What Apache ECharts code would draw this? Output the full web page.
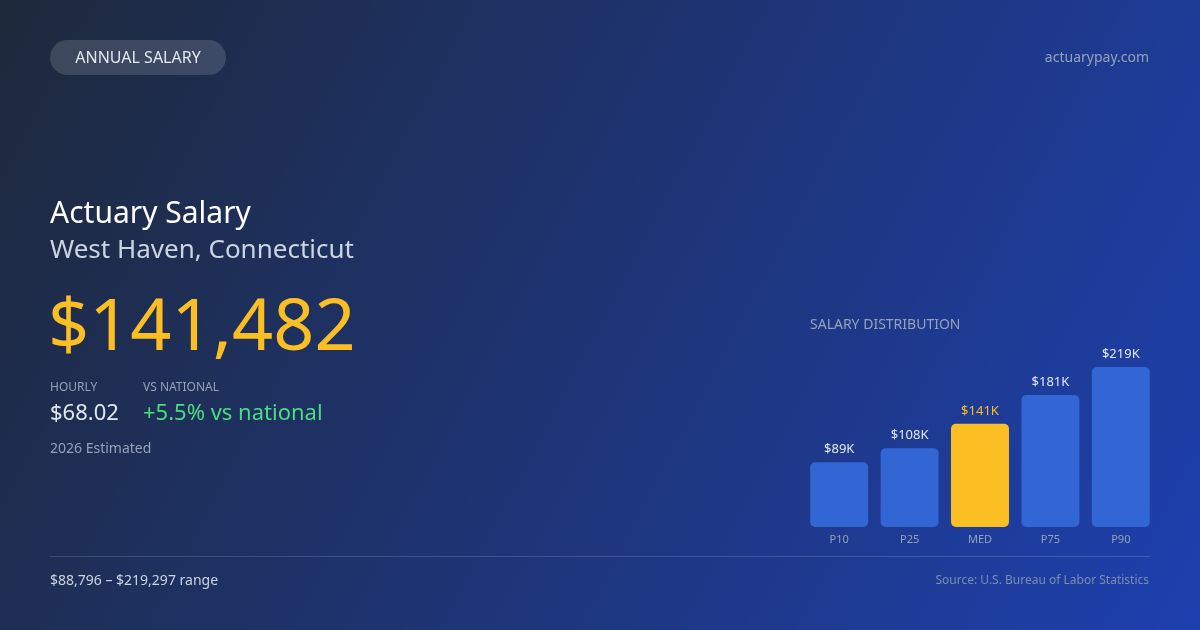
<!DOCTYPE html>
<html>
<head>
<meta charset="utf-8">
<script src="https://cdn.jsdelivr.net/npm/echarts@6/dist/echarts.min.js"></script>
<style>
    html, body { margin: 0; padding: 0; }
    #chart { width: 1200px; height: 630px; }
</style>
</head>
<body>
<div id="chart"></div>
<script>
// salary percentiles (annual, USD)
const percentiles = ['P10', 'P25', 'MED', 'P75', 'P90'];
const salaries = [88796, 108000, 141482, 181000, 219297];
const medianIndex = 2;

const FONT = '"Noto Sans", "Open Sans", sans-serif';

let chart = echarts.init(document.getElementById('chart'));

function text(x, y, str, size, color, extra) {
    return {
        type: 'text',
        x: x,
        y: y,
        style: Object.assign({
            text: str,
            fontFamily: FONT,
            fontSize: size,
            fill: color,
            verticalAlign: 'middle'
        }, extra || {})
    };
}

let graphics = [
    {
        type: 'rect',
        z: -10,
        shape: { x: 0, y: 0, width: 1200, height: 630 },
        style: {
            fill: new echarts.graphic.LinearGradient(0, 0, 1, 1, [
                { offset: 0, color: '#1e293b' },
                { offset: 1, color: '#1e40af' }
            ])
        },
        silent: true
    },
    {
        type: 'rect',
        shape: { x: 50, y: 40, width: 176, height: 35, r: 17.5 },
        style: { fill: 'rgba(255,255,255,0.14)' }
    },
    text(138, 58, 'ANNUAL SALARY', 16, '#e2e8f0', { align: 'center' }),
    text(1149, 58, 'actuarypay.com', 14, '#94a3b8', { align: 'right' }),
    text(50, 214, 'Actuary Salary', 30, '#ffffff'),
    text(50, 251, 'West Haven, Connecticut', 26, '#cbd5e1'),
    text(48, 329, '$141,482', 72, '#fbbf24'),
    text(50, 388, 'HOURLY', 12, '#94a3b8'),
    text(143, 388, 'VS NATIONAL', 12, '#94a3b8'),
    text(50, 414, '$68.02', 22, '#e2e8f0'),
    text(143, 414, '+5.5% vs national', 22, '#4ade80'),
    text(50, 449, '2026 Estimated', 14, '#94a3b8'),
    text(810, 325, 'SALARY DISTRIBUTION', 14, '#94a3b8'),
    {
        type: 'line',
        shape: { x1: 50, y1: 556.5, x2: 1150, y2: 556.5 },
        style: { stroke: 'rgba(255,255,255,0.15)', lineWidth: 1 }
    },
    text(50, 581, '$88,796 \u2013 $219,297 range', 14, '#cbd5e1'),
    text(1149, 581, 'Source: U.S. Bureau of Labor Statistics', 12, '#7c8db0', { align: 'right' })
];

chart.setOption({
    animation: false,
    grid: { left: 804, width: 352, top: 367, height: 160 },
    xAxis: {
        type: 'category',
        data: percentiles,
        axisLine: { show: false },
        axisTick: { show: false },
        axisLabel: {
            color: '#94a3b8',
            fontSize: 11,
            fontFamily: FONT,
            margin: 7
        }
    },
    yAxis: {
        type: 'value',
        min: 0,
        max: 'dataMax',
        show: false,
        splitLine: { show: false }
    },
    series: [{
        type: 'bar',
        barWidth: 58,
        data: salaries.map((v, i) => ({
            value: v,
            itemStyle: { color: i === medianIndex ? '#fbbf24' : '#3166d4' },
            label: { color: i === medianIndex ? '#fbbf24' : '#e2e8f0' }
        })),
        itemStyle: { borderRadius: 5 },
        label: {
            show: true,
            position: 'top',
            distance: 6,
            fontSize: 13,
            fontFamily: FONT,
            formatter: p => '$' + Math.round(p.value / 1000) + 'K'
        }
    }],
    graphic: graphics
});
</script>
</body>
</html>
